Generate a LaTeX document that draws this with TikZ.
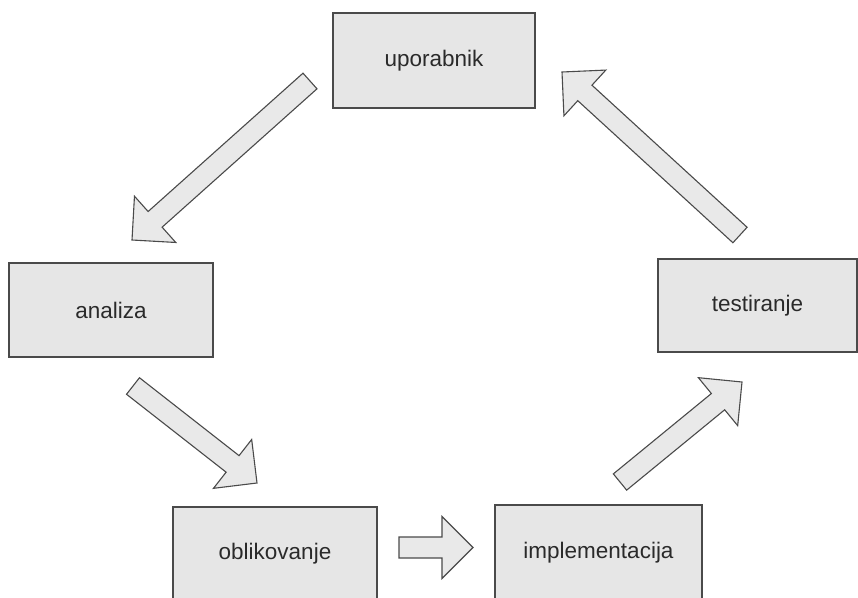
\documentclass[tikz,border=0pt]{standalone}
\usepackage{fontspec}
\setmainfont{Liberation Sans}
\usetikzlibrary{calc}
\definecolor{boxfill}{HTML}{E6E6E6}
\definecolor{arrfill}{HTML}{E9E9E9}
\definecolor{edge}{HTML}{4A4A4A}
\definecolor{txt}{HTML}{2A2A2A}
\newcommand\blockarr[3]{%
  \coordinate (#1c) at ($(#3)!31pt!(#2)$);
  \draw[barrow] ($(#2)!10.5pt!90:(#3)$) -- ($(#1c)!10.5pt!90:(#3)$) -- ($(#1c)!31pt!90:(#3)$) -- (#3)
     -- ($(#1c)!31pt!-90:(#3)$) -- ($(#1c)!10.5pt!-90:(#3)$) -- ($(#2)!10.5pt!-90:(#3)$) -- cycle;
}
\begin{document}
\begin{tikzpicture}[x=1pt,y=-1pt,
  phase/.style={draw=edge, fill=boxfill, line width=1.1pt, rectangle, inner sep=0pt,
    text=txt, font=\fontsize{22.5}{26}\selectfont},
  barrow/.style={draw=edge, fill=arrfill, line width=1.1pt, line join=miter}]
\useasboundingbox[fill=white] (0,0) rectangle (858,597);

\node[phase, minimum width=202pt, minimum height=95pt] (upo) at (434,60.5) {uporabnik};
\node[phase, minimum width=204pt, minimum height=94pt] (ana) at (111,310) {analiza};
\node[phase, minimum width=199pt, minimum height=93pt] (tes) at (757.5,305.5) {testiranje};
\node[phase, minimum width=204pt, minimum height=94pt] (obl) at (275,554) {oblikovanje};
\node[phase, minimum width=207pt, minimum height=96pt] (imp) at (598.5,553) {implementacija};

\coordinate (a1t) at (310,81);    \coordinate (a1h) at (132,240);
\coordinate (a2t) at (133,386);   \coordinate (a2h) at (257,483);
\coordinate (a3t) at (399,547.5); \coordinate (a3h) at (473,547.5);
\coordinate (a4t) at (620,482);   \coordinate (a4h) at (742,382);
\coordinate (a5t) at (740,235);   \coordinate (a5h) at (562,72);

\blockarr{a1}{a1t}{a1h}
\blockarr{a2}{a2t}{a2h}
\blockarr{a3}{a3t}{a3h}
\blockarr{a4}{a4t}{a4h}
\blockarr{a5}{a5t}{a5h}
\end{tikzpicture}
\end{document}
